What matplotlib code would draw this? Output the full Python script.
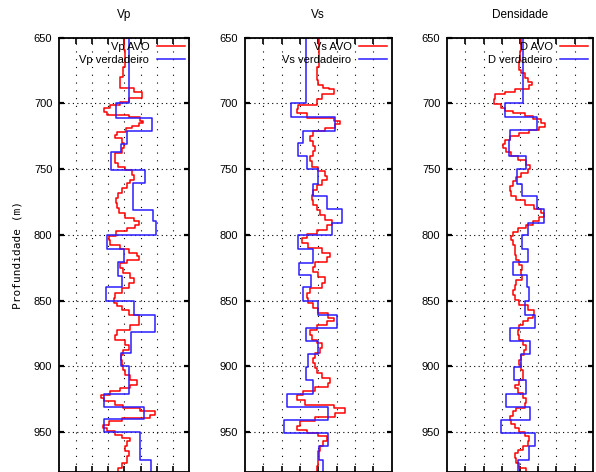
import numpy as np
import matplotlib
matplotlib.use("Agg")
import matplotlib.pyplot as plt

# depth of the top of each step (m) and the value on that step (axis units, no labels)
vp_avo_top = [650, 659, 672, 680, 688, 691, 696, 698.6, 701, 703.7, 706.2, 708.7, 710.5, 713, 715, 717,
              718.8, 721.4, 724, 726.4, 730.2, 734, 737.8, 740.4, 745.4, 748, 750.5, 754.3, 758, 760.6,
              764.4, 768.2, 772, 775.8, 779.6, 783.4, 787.2, 789.8, 792.3, 794.8, 797.4, 800.7, 803.7,
              807.5, 810.8, 813.8, 816.4, 818.9, 821.4, 825.2, 829, 832.8, 836.6, 840.4, 844.2, 848,
              851.8, 854.4, 856.9, 860.7, 864.5, 868.3, 872.1, 875.9, 879.7, 883.5, 887.3, 891.1, 894.9,
              898.7, 902.5, 906.3, 910.2, 914, 916.4, 919, 921.5, 924, 926.6, 929.1, 931.6, 934.2, 936.7,
              939.2, 941.8, 944.3, 946.8, 949.4, 951.9, 954.4, 957, 960.8, 964.6, 968.4, 973.4, 977.2]
vp_avo = [4.01, 4.05, 3.91, 3.75, 4.61, 5.09, 4.26, 3.75, 3.13, 2.78, 2.93, 4.26, 4.98, 5.15, 4.88, 4.47,
          4.12, 3.54, 3.44, 3.85, 4.0, 3.85, 3.44, 3.44, 3.64, 4.06, 4.47, 4.57, 4.36, 4.16,
          3.85, 3.64, 3.5, 3.55, 3.7, 4.06, 4.57, 4.88, 4.67, 4.16, 3.5, 3.03, 3.1,
          3.75, 4.26, 4.78, 4.88, 4.16, 3.75, 3.95, 4.36, 4.57, 4.26, 3.85, 3.44, 3.34,
          3.54, 3.85, 4.26, 4.88, 4.92, 4.36, 3.54, 3.44, 4.06, 4.26, 3.95, 3.79, 3.85,
          3.95, 4.06, 4.36, 4.78, 4.36, 3.75, 3.13, 2.55, 2.72, 3.44, 3.95, 4.98, 5.91, 5.6,
          3.85, 3.03, 2.68, 2.93, 3.44, 3.85, 4.36, 4.16, 4.06, 4.26, 4.16, 3.85, 3.64]

vp_true_top = [650, 700, 711.3, 720.9, 730.8, 736.6, 750.5, 760.6, 781, 789.8, 800, 810.8, 821, 831.6,
               840, 850, 860.7, 874.2, 889.8, 900, 921, 930.9, 940, 950.2, 970.9]
vp_true = [4.26, 3.48, 5.70, 4.16, 3.77, 3.17, 5.29, 4.53, 5.74, 5.97, 2.92, 3.99, 3.6, 3.85,
           2.86, 4.61, 5.91, 4.41, 3.79, 4.26, 2.78, 5.23, 2.78, 4.98, 5.64]

vs_avo_top = [650, 672, 682, 686, 688.5, 689.3, 693, 697, 701.5, 704.6, 707.6, 711, 713.5, 716, 718.6,
              721, 725, 728.8, 732.6, 736.4, 740.2, 744, 748, 751.7, 755, 758, 761.8, 765.7, 769.5,
              773.3, 777.1, 781, 784.7, 788.6, 792.4, 796.2, 799.2, 802.6, 806.4, 810.2, 814, 816.6,
              820.4, 824.2, 828, 831.9, 836.5, 840.4, 844.2, 848, 851.8, 855.6, 859.4, 863.2, 865.7,
              868.3, 872.1, 875.9, 879.7, 882.2, 886, 889.8, 893.6, 897.5, 901.3, 905, 908.9, 912.7,
              915.7, 919, 921.6, 925.4, 929.2, 931.7, 935.5, 938.6, 941.9, 945.2, 948.2, 950.8, 953.3,
              957.1, 960.9, 964.7, 968.5, 972.3, 976.1]
vs_avo = [4.06, 3.95, 4.0, 4.25, 4.61, 4.83, 4.19, 3.92, 2.91, 2.82, 3.37, 4.88, 5.19, 4.92, 4.37,
          3.73, 3.55, 3.73, 3.83, 3.73, 3.55, 3.64, 4.01, 4.37, 4.46, 4.19, 3.92, 3.73, 3.64,
          3.73, 3.92, 4.1, 4.37, 4.74, 4.46, 3.92, 3.37, 3.1, 3.46, 4.19, 4.64, 4.46,
          3.83, 3.73, 4.01, 4.37, 4.19, 3.55, 3.37, 3.46, 3.73, 4.01, 4.55, 4.83, 4.46,
          3.92, 3.55, 3.64, 3.92, 4.19, 4.1, 3.83, 3.73, 3.83, 3.92, 4.19, 4.64, 4.55,
          3.83, 3.19, 2.82, 3.28, 4.83, 5.46, 4.92, 3.83, 3.01, 2.82, 3.37, 4.01, 4.46,
          4.28, 4.1, 4.01, 3.97, 4.01, 3.92]

vs_true_top = [650, 700, 710.6, 720.6, 730.2, 740, 750, 761.1, 770.8, 780.2, 790.6, 800, 811, 821.1,
               830.6, 839.6, 850, 860.7, 870.8, 880.5, 890.4, 900.5, 910.7, 921, 931, 940.6, 950.8,
               960.9, 971]
vs_true = [3.32, 2.53, 4.93, 3.17, 2.91, 3.37, 3.97, 3.73, 4.46, 5.28, 4.77, 2.91, 3.73, 2.97,
           3.61, 3.19, 3.97, 5.01, 3.33, 4.01, 3.42, 3.32, 3.73, 2.28, 4.52, 2.13, 4.52,
           4.04, 4.23]

d_avo_top = [650, 660, 668, 674.6, 677, 680.9, 683.4, 686, 689.2, 691.3, 693, 697, 700.8, 703.3, 705.9,
             707.6, 709.7, 712.2, 714.7, 717.8, 720.4, 722.4, 725, 727.5, 730.5, 733.8, 737.1, 740.2,
             743.3, 746.7, 750, 753, 756, 759.3, 763, 766.9, 770.8, 773.8, 777.1, 780.4, 783.5, 786.5,
             789.8, 792.4, 794.9, 797.5, 800.8, 803.8, 807.7, 811.5, 815.3, 819.1, 822.9, 826.7, 830.6,
             834.4, 837.8, 841.6, 845.4, 849.2, 853, 856.9, 860.7, 863.2, 865.7, 868.3, 872.1, 875.9,
             879.7, 883.5, 887.3, 891.1, 894.9, 898.7, 902.5, 906.3, 910.2, 914, 916.5, 920.3, 924.1,
             927.9, 931.7, 934.2, 937.5, 940.6, 943.6, 946.9, 950.2, 953.3, 957.1, 960.9, 963.5, 966,
             969.8, 973.6, 977.4]
d_avo = [4.06, 4.0, 3.97, 4.06, 4.25, 4.43, 4.67, 4.52, 3.74, 3.15, 2.61, 2.57, 2.97, 3.15, 3.61,
         4.25, 4.7, 5.16, 5.38, 5.07, 4.52, 3.97, 3.43, 3.15, 3.06, 3.24, 3.52, 3.88,
         4.34, 4.57, 4.43, 4.06, 3.79, 3.61, 3.43, 3.52, 3.79, 4.25, 4.79, 5.16, 5.3, 5.07,
         4.7, 4.34, 3.88, 3.61, 3.52, 3.61, 3.7, 3.74, 3.79, 3.97, 4.1, 4.03, 4.1,
         3.79, 3.7, 3.61, 3.7, 3.97, 4.43, 4.79, 4.7, 4.43, 4.15, 3.97, 3.88, 3.97,
         4.15, 4.34, 4.21, 4.06, 3.97, 4.03, 4.15, 4.15, 3.92, 3.7, 3.88, 4.15, 4.34,
         4.25, 3.79, 3.61, 3.43, 3.52, 3.7, 3.97, 4.25, 4.52, 4.43, 4.15, 3.88, 3.74,
         3.79, 3.97, 4.34]

d_true_top = [650, 700, 710.4, 720.4, 727.5, 740.2, 750, 761, 770.8, 780.2, 790.6, 800, 811, 821,
              830.6, 840, 850, 860.7, 870.8, 880.5, 890.4, 900.5, 910.7, 921, 931, 940.6, 950.8,
              960.9, 971]
d_true = [4.19, 3.15, 4.92, 3.46, 3.39, 4.34, 3.85, 4.1, 4.92, 5.34, 4.43, 4.1, 4.43, 3.61,
          4.39, 4.48, 4.3, 4.85, 3.46, 4.57, 4.03, 3.66, 4.34, 3.24, 4.56, 2.97, 4.85,
          4.48, 3.88]

titles = ["Vp", "Vs", "Densidade"]
names = ["Vp", "Vs", "D"]


def staircase(tops, vals, bottom=995):
    edges = np.append(np.asarray(tops, float), bottom)
    ys = np.column_stack([edges[:-1], edges[1:]]).ravel()
    xs = np.repeat(np.asarray(vals, float), 2)
    return xs, ys


W, H = 596, 472
fig = plt.figure(figsize=(W / 100, H / 100), dpi=100)
plt.rcParams['font.family'] = ['Liberation Sans', 'DejaVu Sans']

# axes boxes in pixels: (left, right)
boxes = [(59.3, 189.3), (245, 391.6), (447.3, 592.7)]
top_px, bot_px = 37.7, 471.5

series = [(vp_avo_top, vp_avo, vp_true_top, vp_true),
          (vs_avo_top, vs_avo, vs_true_top, vs_true),
          (d_avo_top, d_avo, d_true_top, d_true)]

for i, (l, r) in enumerate(boxes):
    ax = fig.add_axes([l / W, (H - bot_px) / H, (r - l) / W, (bot_px - top_px) / H])
    at, av, tt, tv = series[i]
    xs, ys = staircase(at, av)
    ax.plot(xs, ys, color='#ff0000', lw=1.1, label=names[i] + " AVO")
    xs, ys = staircase(tt, tv)
    ax.plot(xs, ys, color='#2a1cff', lw=1.1, label=names[i] + " verdadeiro")

    ax.set_xlim(0, 8)
    ax.set_ylim(980, 650)
    ax.set_xticks(range(1, 8))
    ax.set_yticks(range(650, 951, 50))
    ax.tick_params(axis='x', direction='in', top=True, bottom=True, length=4.5, width=1.2,
                   labelbottom=False)
    ax.tick_params(axis='y', direction='in', left=True, right=True, length=3.5, width=1.6,
                   labelsize=8, pad=5)
    for s in ax.spines.values():
        s.set_linewidth(1.3)
    ax.xaxis.grid(True, linestyle=(0, (1, 6)), color='black', lw=0.8)
    ax.yaxis.grid(True, linestyle=(0, (1, 3)), color='black', lw=0.8)
    ax.set_title(titles[i], fontsize=8.5, pad=14)

    leg = ax.legend(loc='upper right', frameon=False, markerfirst=False, fontsize=8,
                    handlelength=2.5, handletextpad=0.7, labelspacing=0.25,
                    borderaxespad=0.2, borderpad=0.2)

    if i == 0:
        ax.set_ylabel("Profundidade (m)", family='DejaVu Sans Mono', fontsize=8, labelpad=8)

fig.savefig("out.png", dpi=100)
